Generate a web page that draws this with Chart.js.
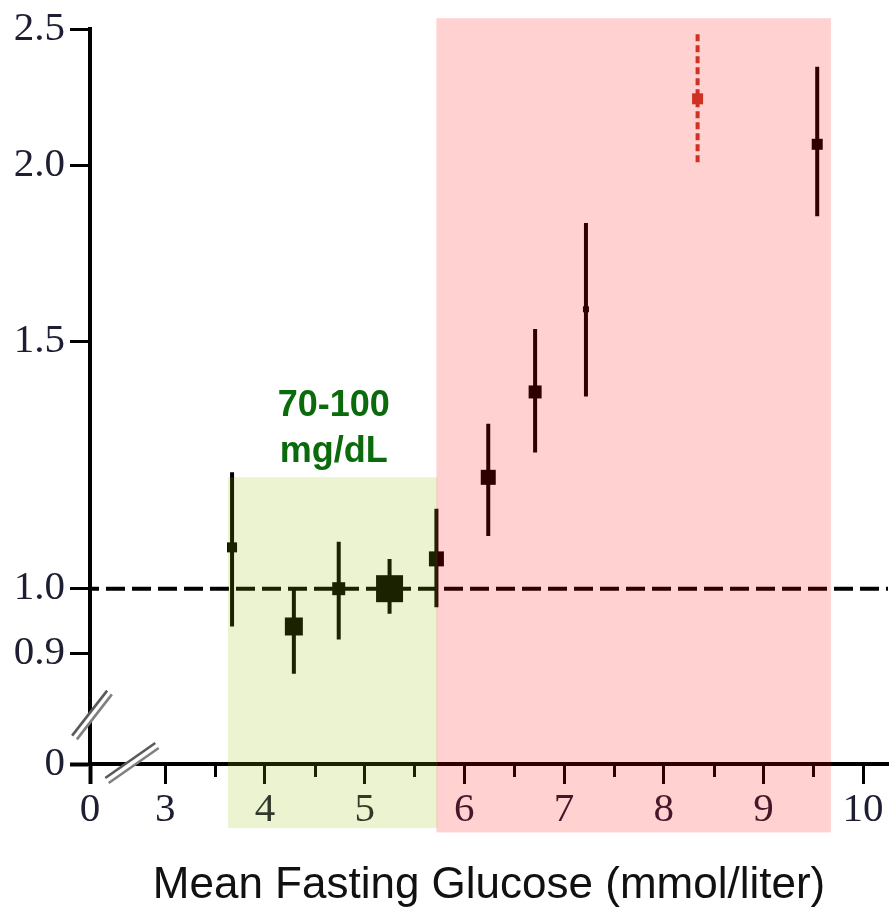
<!DOCTYPE html>
<html>
<head>
<meta charset="utf-8">
<script src="https://cdn.jsdelivr.net/npm/chart.js@4.4.1/dist/chart.umd.min.js"></script>
<style>
  html, body { margin: 0; padding: 0; background: #fff; overflow: hidden; }
  #wrap { width: 890px; height: 908px; position: relative; }
  canvas { display: block; }
</style>
</head>
<body>
<div id="wrap"><canvas id="glucoseChart"></canvas></div>
<script>
// group means of fasting glucose (mmol/liter) with ratio and 95% CI
const glucose = [3.67, 4.29, 4.74, 5.25, 5.72, 6.24, 6.71, 7.22, 8.34, 9.54];
const ratio   = [1.07, 0.94, 1.00, 1.00, 1.05, 1.20, 1.38, 1.58, 2.23, 2.07];
const lower   = [0.94, 0.87, 0.92, 0.96, 0.97, 1.09, 1.25, 1.37, 2.01, 1.84];
const upper   = [1.21, 1.00, 1.08, 1.05, 1.14, 1.31, 1.53, 1.82, 2.48, 2.35];

const yTicks = [0.9, 1.0, 1.5, 2.0, 2.5];
const xTicks = [3, 4, 5, 6, 7, 8, 9, 10];
const xMinor = [3.5, 4.5, 5.5, 6.5, 7.5, 8.5, 9.5];

// marker side in px (weight of each group), highlighted group in red
const boxSize = [10, 18, 13, 27, 15, 15, 13, 6, 11, 11];
const redIdx = 8;
const RED = 'rgb(194,61,43)';

// broken axes: "0" sits just below the first real tick on each axis
const X_ZERO = 2.245;
const Y_ZERO = -0.287;   // in log units

const ln = Math.log;

const markers = glucose.map((g, i) => ({ x: g, y: ln(ratio[i]) }));
const bars = [];
glucose.forEach((g, i) => {
  if (i === redIdx) return;
  bars.push({ x: g, y: ln(lower[i]) }, { x: g, y: ln(upper[i]) }, { x: g, y: null });
});
const redBar = [{ x: glucose[redIdx], y: ln(lower[redIdx]) }, { x: glucose[redIdx], y: ln(upper[redIdx]) }];

const tickFont = { family: "'Liberation Serif', serif", size: 41 };

// no label overhang padding, the plot runs to the edges
const noPad = s => { s.paddingLeft = s.paddingRight = s.paddingTop = s.paddingBottom = 0; };

const decor = {
  id: 'decor',
  beforeDatasetsDraw(chart) {
    const { ctx, chartArea: a, scales: { x, y } } = chart;
    ctx.save();
    // reference line at ratio 1.0
    ctx.strokeStyle = '#000';
    ctx.lineWidth = 4;
    ctx.setLineDash([19, 7]);
    ctx.lineDashOffset = 10;
    ctx.beginPath();
    ctx.moveTo(a.left, y.getPixelForValue(0));
    ctx.lineTo(a.right, y.getPixelForValue(0));
    ctx.stroke();
    ctx.setLineDash([]);
    // short minor ticks
    ctx.lineWidth = 3;
    xMinor.forEach(v => {
      const px = Math.round(x.getPixelForValue(v)) + 0.5;
      ctx.beginPath();
      ctx.moveTo(px, a.bottom + 2);
      ctx.lineTo(px, a.bottom + 13);
      ctx.stroke();
    });
    ctx.restore();
  },
  afterDraw(chart) {
    const { ctx, chartArea: a, scales: { x, y } } = chart;
    ctx.save();

    // axis break marks
    const brk = (cx, cy, dx, dy) => {
      const len = Math.hypot(dx, dy), ux = dx / len, uy = dy / len;
      const nx = -uy, ny = ux;
      const seg = (off, color, w) => {
        ctx.strokeStyle = color;
        ctx.lineWidth = w;
        ctx.beginPath();
        ctx.moveTo(cx - ux * len / 2 + nx * off, cy - uy * len / 2 + ny * off);
        ctx.lineTo(cx + ux * len / 2 + nx * off, cy + uy * len / 2 + ny * off);
        ctx.stroke();
      };
      seg(0, '#fff', 6);
      seg(-3, '#5a5a5a', 2.6);
      seg(3, '#808080', 2.6);
    };
    brk(a.left + 2, y.getPixelForValue(Y_ZERO) - 49, 35, -45);
    brk(x.getPixelForValue(X_ZERO) + 42, a.bottom - 1, 50, -35);

    // shaded glucose ranges
    const band = (x0, x1, top, bottom, color) => {
      const l = x.getPixelForValue(x0), r = x.getPixelForValue(x1);
      const t = y.getPixelForValue(top), b = y.getPixelForValue(bottom);
      ctx.fillStyle = color;
      ctx.fillRect(l, t, r - l, b - t);
    };
    band(3.63, 5.73, ln(1.2), -0.392, 'rgba(144,189,0,0.18)');
    band(5.72, 9.677, 0.934, -0.399, 'rgba(255,0,0,0.18)');

    // normal range label
    ctx.fillStyle = '#0b6a0b';
    ctx.font = "bold 36px 'Liberation Sans', Arial, sans-serif";
    ctx.textAlign = 'center';
    ctx.textBaseline = 'alphabetic';
    const cx = x.getPixelForValue(4.69);
    ctx.fillText('70-100', cx, y.getPixelForValue(0.2827));
    ctx.fillText('mg/dL', cx, y.getPixelForValue(0.2074));
    ctx.restore();
  }
};

new Chart('glucoseChart', {
  type: 'scatter',
  data: {
    datasets: [{
      label: 'Ratio',
      data: markers,
      pointStyle: 'rect',
      pointRadius: boxSize.map(s => s / (2 * Math.SQRT1_2)),
      backgroundColor: glucose.map((g, i) => i === redIdx ? RED : '#000'),
      borderWidth: 0
    }, {
      label: '95% CI',
      data: bars,
      showLine: true,
      borderColor: '#000',
      borderWidth: 4,
      pointRadius: 0,
      borderCapStyle: 'butt'
    }, {
      label: '95% CI (highlight)',
      data: redBar,
      showLine: true,
      borderColor: RED,
      borderWidth: 4,
      borderDash: [7, 4],
      pointRadius: 0
    }]
  },
  options: {
    responsive: true,
    maintainAspectRatio: false,
    animation: false,
    events: [],
    layout: { autoPadding: false, padding: { top: 29, right: 2, left: 0, bottom: 0 } },
    plugins: { legend: { display: false }, tooltip: { enabled: false } },
    scales: {
      x: {
        type: 'linear',
        min: X_ZERO,
        max: 10.25,
        afterBuildTicks: s => { s.ticks = [X_ZERO, ...xTicks].map(v => ({ value: v })); },
        afterFit: s => { s.height = 144; noPad(s); },
        ticks: {
          autoSkip: false,
          maxRotation: 0,
          padding: 2,
          color: '#1d1d33',
          font: tickFont,
          callback: (v, i) => i === 0 ? '0' : String(xTicks[i - 1])
        },
        grid: {
          drawOnChartArea: false,
          tickLength: 20,
          tickWidth: c => c.index === 0 ? 4 : 3,
          tickColor: '#000'
        },
        border: { display: true, width: 4, color: '#000' },
        title: {
          display: true,
          text: 'Mean Fasting Glucose (mmol/liter)',
          color: '#111',
          font: { family: "'Liberation Sans', Arial, sans-serif", size: 44, lineHeight: 1 },
          padding: { top: 0, bottom: 0 }
        }
      },
      y: {
        type: 'linear',
        min: Y_ZERO,
        max: ln(2.5),
        afterBuildTicks: s => { s.ticks = [Y_ZERO, ...yTicks.map(ln)].map(v => ({ value: v })); },
        afterFit: s => { s.width = 90; noPad(s); },
        ticks: {
          padding: 5,
          color: '#1d1d33',
          font: tickFont,
          callback: (v, i) => i === 0 ? '0' : yTicks[i - 1].toFixed(1)
        },
        grid: {
          drawOnChartArea: false,
          tickLength: 20,
          tickWidth: c => c.index === 0 ? 4 : 3,
          tickColor: '#000'
        },
        border: { display: true, width: 4, color: '#000' }
      }
    }
  },
  plugins: [decor]
});
</script>
</body>
</html>
